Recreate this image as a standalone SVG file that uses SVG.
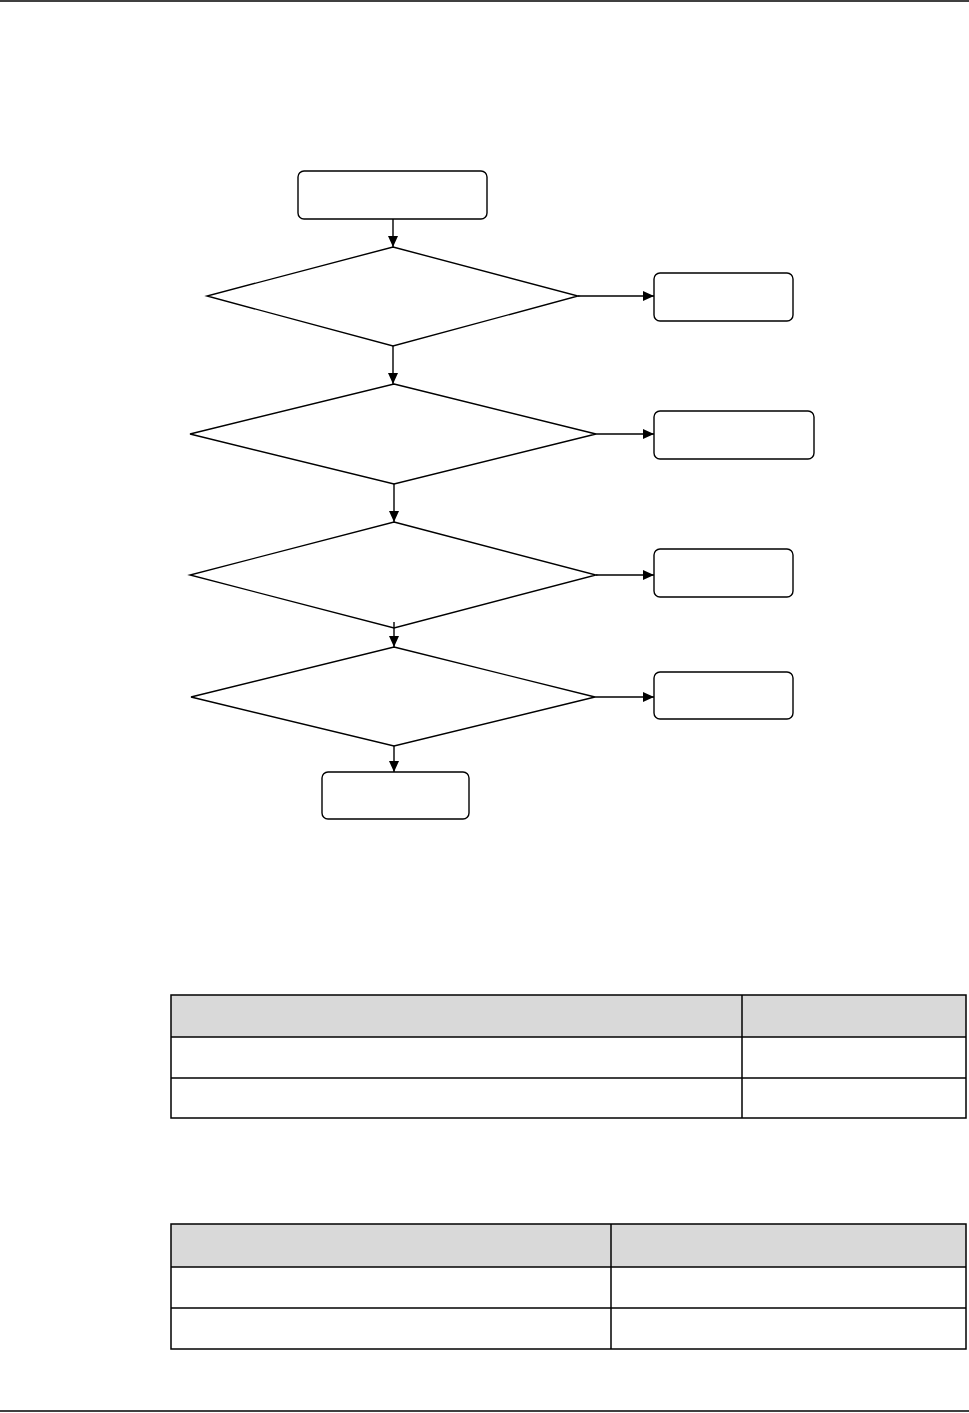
<svg xmlns="http://www.w3.org/2000/svg" width="969" height="1413" viewBox="0 0 969 1413">
<style>
.n{fill:#fff;stroke:#000;stroke-width:1.4}
.c{fill:none;stroke:#000;stroke-width:1.4}
.rule{stroke:#000;stroke-width:1.5}
.tb{fill:none;stroke:#000;stroke-width:1.5}
.hd{fill:#d9d9d9}
</style>
<defs>
<marker id="ah" markerUnits="userSpaceOnUse" markerWidth="12" markerHeight="12" viewBox="0 0 12 12" refX="11" refY="6" orient="auto">
<path d="M0,1 L11,6 L0,11 Z" fill="#000"/>
</marker>
</defs>
<rect width="969" height="1413" fill="#fff"/>
<line class="rule" x1="0" y1="1" x2="969" y2="1"/>
<line class="rule" x1="0" y1="1411" x2="969" y2="1411"/>

<g id="start"><rect class="n" x="298" y="171" width="189" height="48" rx="6"/></g>
<g id="d1"><polygon class="n" points="393,247 578,296 393,346 207,296"/></g>
<g id="d2"><polygon class="n" points="394,384 596,434 394,484 190,434"/></g>
<g id="d3"><polygon class="n" points="394,522 596,575 394,628 190,575"/></g>
<g id="d4"><polygon class="n" points="394,647 595,697 394,746 191,697"/></g>
<g id="r1"><rect class="n" x="654" y="273" width="139" height="48" rx="6"/></g>
<g id="r2"><rect class="n" x="654" y="411" width="160" height="48" rx="6"/></g>
<g id="r3"><rect class="n" x="654" y="549" width="139" height="48" rx="6"/></g>
<g id="r4"><rect class="n" x="654" y="672" width="139" height="47" rx="6"/></g>
<g id="end"><rect class="n" x="322" y="772" width="147" height="47" rx="6"/></g>

<g id="connectors">
<line class="c" x1="393" y1="219" x2="393" y2="247" marker-end="url(#ah)"/>
<line class="c" x1="393" y1="346" x2="393" y2="384" marker-end="url(#ah)"/>
<line class="c" x1="394" y1="484" x2="394" y2="522" marker-end="url(#ah)"/>
<line class="c" x1="394" y1="622" x2="394" y2="647" marker-end="url(#ah)"/>
<line class="c" x1="394" y1="746" x2="394" y2="772" marker-end="url(#ah)"/>
<line class="c" x1="578" y1="296" x2="654" y2="296" marker-end="url(#ah)"/>
<line class="c" x1="596" y1="434" x2="654" y2="434" marker-end="url(#ah)"/>
<line class="c" x1="596" y1="575" x2="654" y2="575" marker-end="url(#ah)"/>
<line class="c" x1="595" y1="697" x2="654" y2="697" marker-end="url(#ah)"/>
</g>

<g id="table1">
<rect class="hd" x="171" y="995" width="795" height="42"/>
<rect class="tb" x="171" y="995" width="795" height="123"/>
<line class="tb" x1="171" y1="1037" x2="966" y2="1037"/>
<line class="tb" x1="171" y1="1078" x2="966" y2="1078"/>
<line class="tb" x1="742" y1="995" x2="742" y2="1118"/>
</g>

<g id="table2">
<rect class="hd" x="171" y="1224" width="795" height="43"/>
<rect class="tb" x="171" y="1224" width="795" height="125"/>
<line class="tb" x1="171" y1="1267" x2="966" y2="1267"/>
<line class="tb" x1="171" y1="1308" x2="966" y2="1308"/>
<line class="tb" x1="611" y1="1224" x2="611" y2="1349"/>
</g>
</svg>
